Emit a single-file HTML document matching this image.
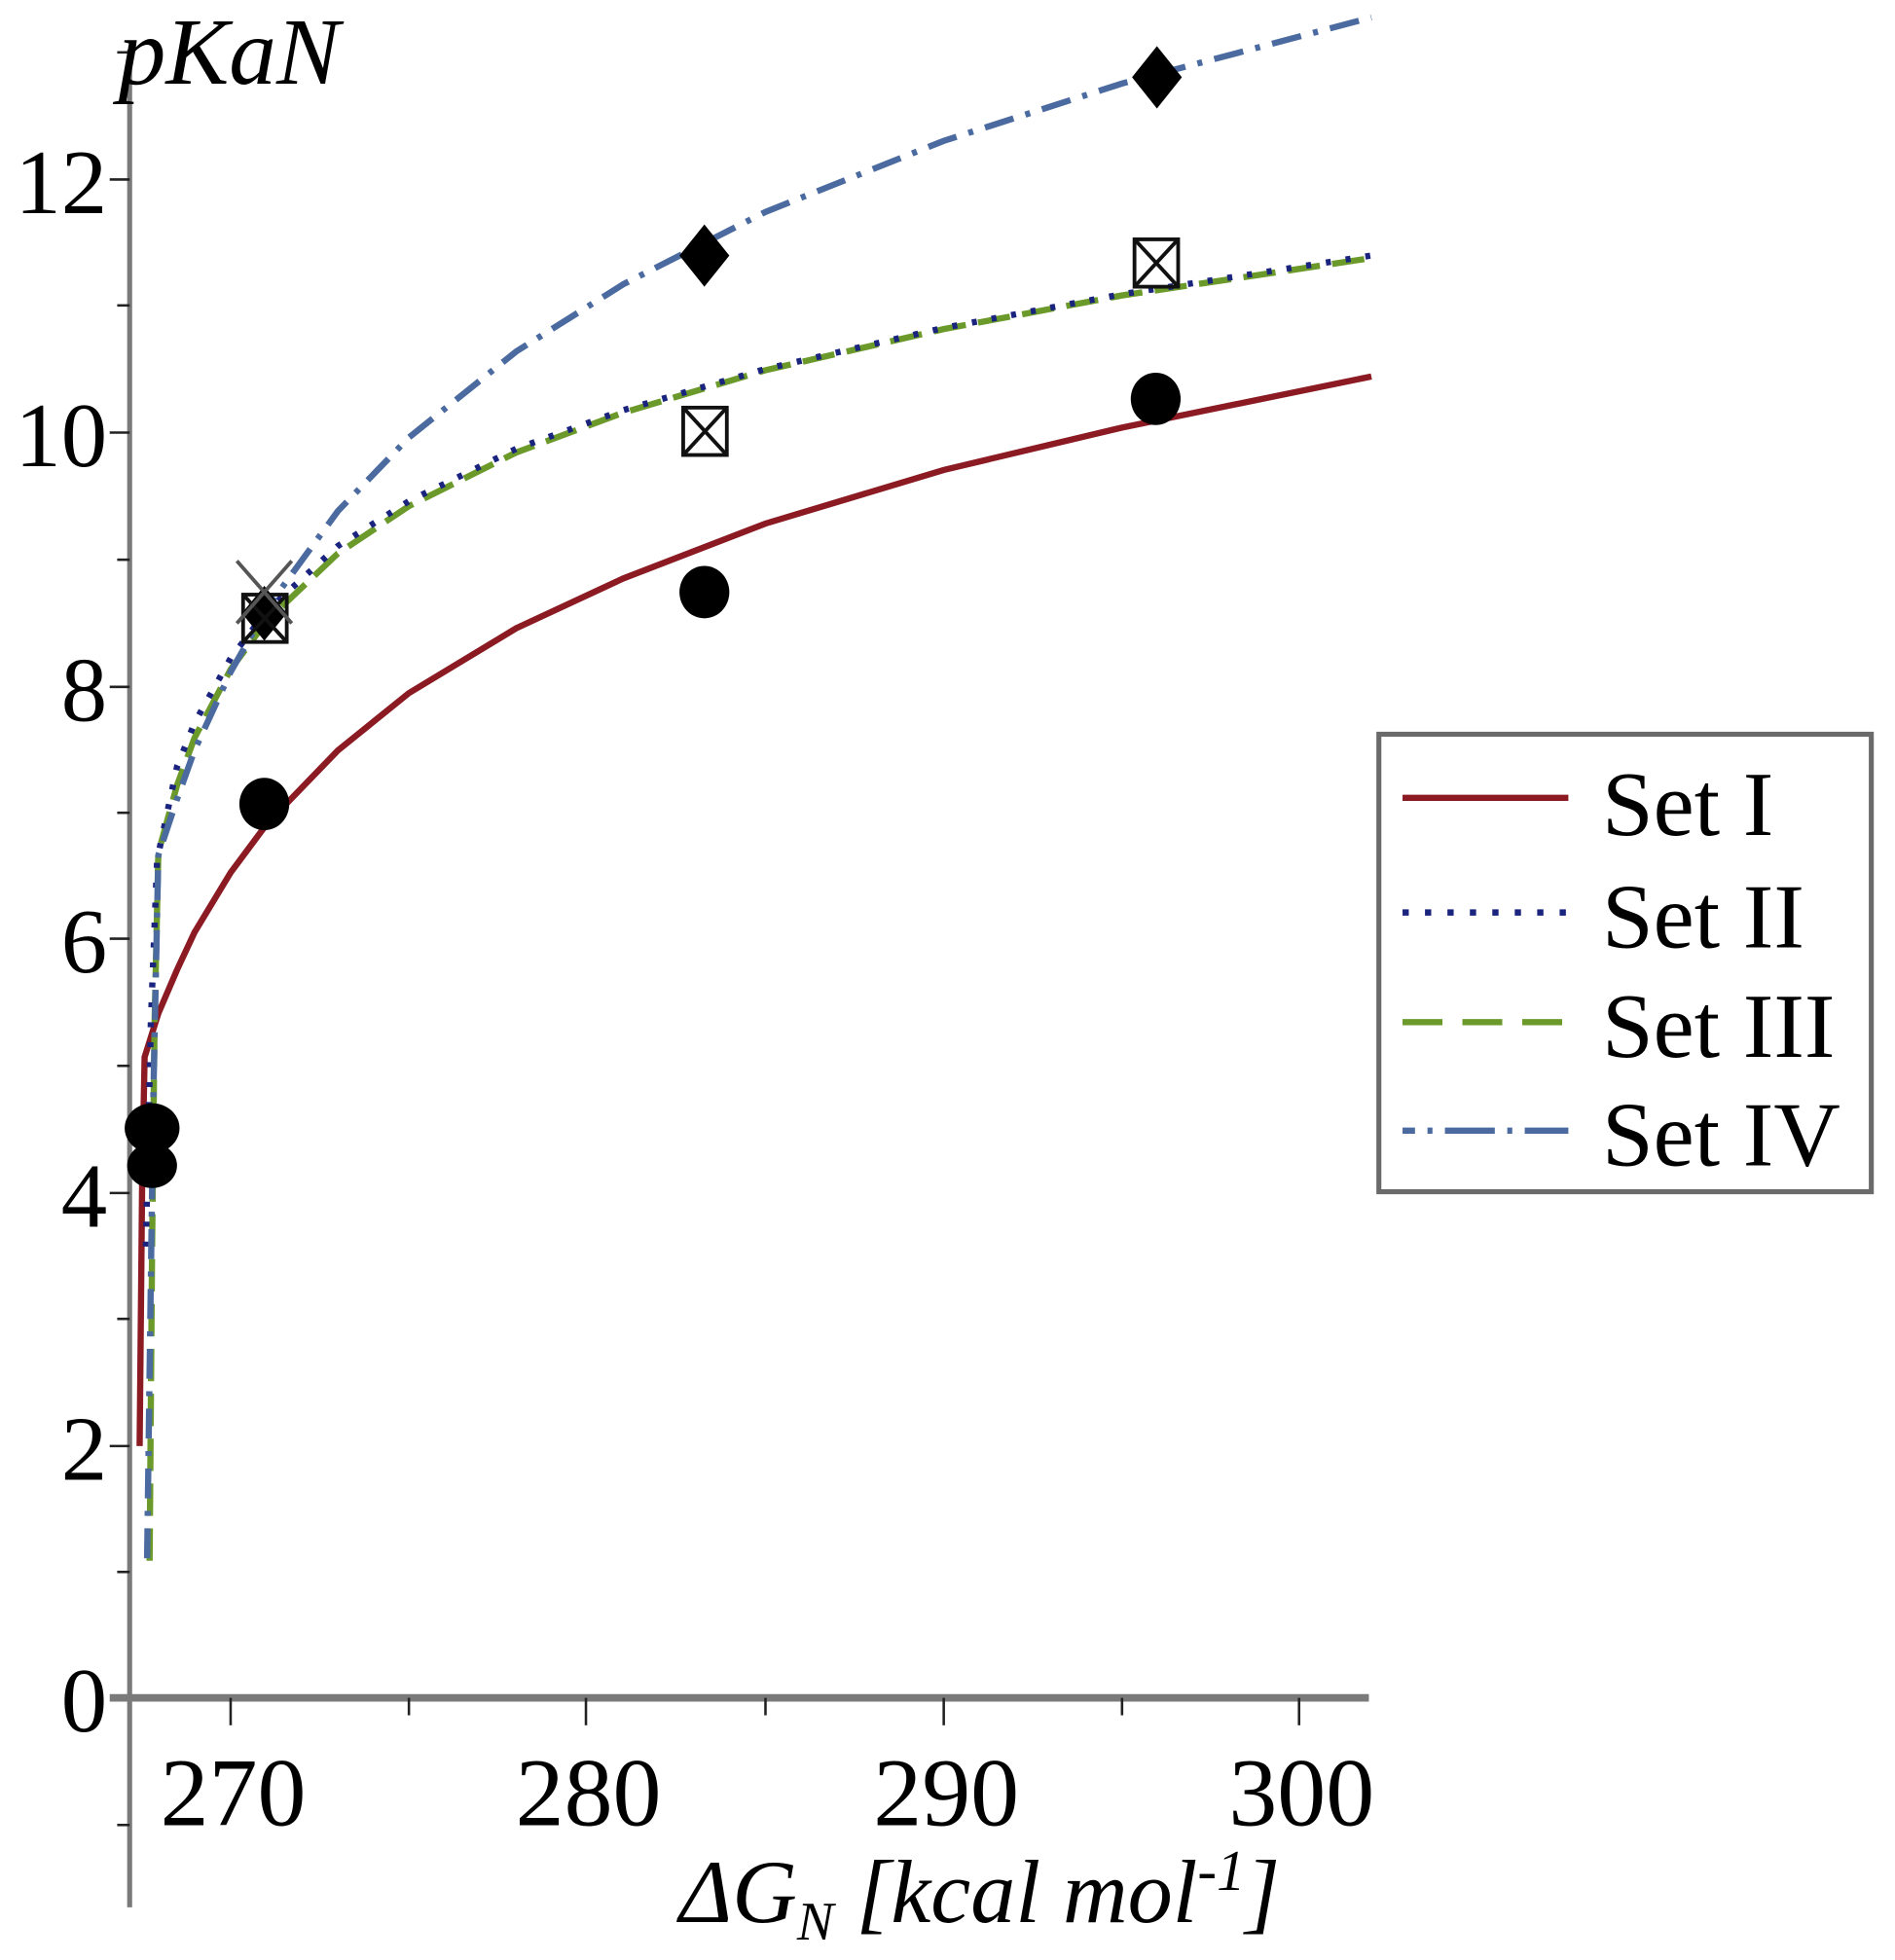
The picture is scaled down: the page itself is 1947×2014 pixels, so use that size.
<!DOCTYPE html>
<html><head><meta charset="utf-8"><style>
html,body{margin:0;padding:0;background:#fff;}
svg{display:block;}
text{font-family:"Liberation Serif",serif;fill:#000;}
</style></head><body>
<svg width="1947" height="2014" viewBox="0 0 1520 1572.3" preserveAspectRatio="none" xmlns="http://www.w3.org/2000/svg">
<rect width="1520" height="1573" fill="#fff"/>
<!-- axes -->
<line x1="104" y1="40" x2="104" y2="1530" stroke="#7a7a7a" stroke-width="4"/>
<line x1="88" y1="1362" x2="1098" y2="1362" stroke="#7a7a7a" stroke-width="6"/>
<g stroke="#222" stroke-width="2">
<line x1="185" y1="1362" x2="185" y2="1384"/><line x1="328" y1="1362" x2="328" y2="1376"/>
<line x1="470" y1="1362" x2="470" y2="1384"/><line x1="614" y1="1362" x2="614" y2="1376"/>
<line x1="757" y1="1362" x2="757" y2="1384"/><line x1="900" y1="1362" x2="900" y2="1376"/>
<line x1="1042" y1="1362" x2="1042" y2="1384"/>
<line x1="94" y1="1464" x2="104" y2="1464"/><line x1="94" y1="1261" x2="104" y2="1261"/>
<line x1="88" y1="1160" x2="104" y2="1160"/><line x1="94" y1="1058" x2="104" y2="1058"/>
<line x1="88" y1="957" x2="104" y2="957"/><line x1="94" y1="855" x2="104" y2="855"/>
<line x1="88" y1="753" x2="104" y2="753"/><line x1="94" y1="652" x2="104" y2="652"/>
<line x1="88" y1="551" x2="104" y2="551"/><line x1="94" y1="449" x2="104" y2="449"/>
<line x1="88" y1="347" x2="104" y2="347"/><line x1="94" y1="245" x2="104" y2="245"/>
<line x1="88" y1="144" x2="104" y2="144"/><line x1="94" y1="42" x2="104" y2="42"/>
</g>
<g font-size="74" text-anchor="end">
<text x="86" y="1389">0</text><text x="86" y="1187">2</text><text x="86" y="984">4</text>
<text x="86" y="780">6</text><text x="86" y="578">8</text><text x="86" y="374">10</text><text x="86" y="171">12</text>
</g>
<g font-size="78" text-anchor="middle">
<text x="187" y="1464">270</text><text x="472" y="1464">280</text><text x="759" y="1464">290</text><text x="1044" y="1464">300</text>
</g>
<text x="95" y="67" font-size="76" font-style="italic">pKaN</text>
<text x="545" y="1542" font-size="72" font-style="italic">ΔG<tspan font-size="44" dy="14">N</tspan><tspan dy="-14"> [kcal mol</tspan><tspan font-size="46" dy="-26">-1</tspan><tspan dy="26">]</tspan></text>
<!-- curves -->
<polyline fill="none" stroke="#8b1a22" stroke-width="5" points="112,1160 114,950 116,848 127,813 142,778 156,748 185,700 214,661 271,602 328,556 414,504 500,464 614,420 757,377 900,343 1100,302"/>
<polyline fill="none" stroke="#6b9a2a" stroke-width="5" stroke-dasharray="26,10" points="120,1252 122,1000 124,820 127,684 142,630 156,592 185,537 214,498 271,444 328,406 414,363 500,331 614,297 757,264 900,237 1100,207"/>
<polyline fill="none" stroke="#1a237e" stroke-width="5" stroke-dasharray="4,12" points="117,1000 121,820 126,690 142,615 156,580 185,528 214,490 271,438 328,402 414,360 500,329 614,296 757,263 900,236 1100,205"/>
<polyline fill="none" stroke="#4a6aa0" stroke-width="5" stroke-dasharray="24,10,4,10" points="118,1250 120,1100 123,880 127,686 142,641 156,602 185,539 214,488 271,410 328,351 414,282 500,228 614,170 757,113 900,67 1100,14"/>
<!-- markers -->
<g fill="#000">
<ellipse cx="212" cy="645" rx="20" ry="21"/><ellipse cx="565" cy="475" rx="20" ry="21"/><ellipse cx="927" cy="320" rx="20" ry="21"/>
<ellipse cx="122" cy="905" rx="22" ry="20"/><ellipse cx="122" cy="935" rx="20" ry="18"/>
<polygon points="565,180 585,205 565,230 545,205"/><polygon points="928,37 948,62 928,87 908,62"/>
<polygon points="212,470 230,492 212,514 194,492"/>
</g>
<g fill="none" stroke="#111" stroke-width="3">
<rect x="548" y="327" width="35" height="38"/><path d="M548,327 L583,365 M583,327 L548,365"/>
<rect x="910" y="192" width="35" height="38"/><path d="M910,192 L945,230 M945,192 L910,230"/>
<rect x="195" y="477" width="35" height="38"/><path d="M195,477 L230,515 M230,477 L195,515"/>
<path d="M190,450 L234,500 M234,450 L190,500" stroke="#555"/>
</g>
<!-- legend -->
<rect x="1106" y="589" width="395" height="367" fill="#fff" stroke="#6a6a6a" stroke-width="4"/>
<line x1="1125" y1="640" x2="1258" y2="640" stroke="#8b1a22" stroke-width="5"/>
<line x1="1125" y1="732" x2="1258" y2="732" stroke="#1a237e" stroke-width="5" stroke-dasharray="5,13"/>
<line x1="1125" y1="820" x2="1258" y2="820" stroke="#6b9a2a" stroke-width="5" stroke-dasharray="32,16"/>
<line x1="1125" y1="907" x2="1258" y2="907" stroke="#4a6aa0" stroke-width="5" stroke-dasharray="10,10,4,10,30,0"/>
<g font-size="74">
<text x="1285" y="670">Set I</text><text x="1285" y="760">Set II</text>
<text x="1285" y="848">Set III</text><text x="1285" y="935">Set IV</text>
</g>
</svg>
</body></html>
